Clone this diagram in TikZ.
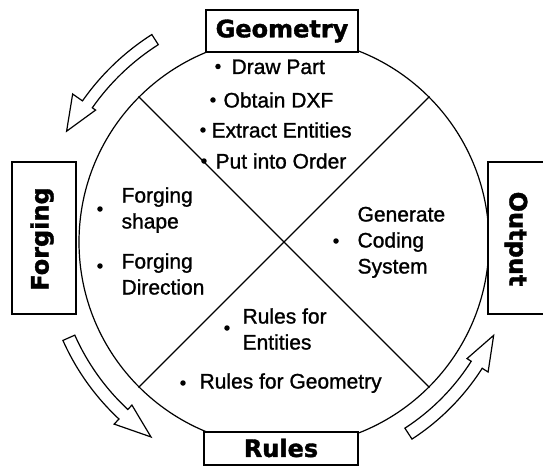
\documentclass[tikz,border=0pt]{standalone}
\usepackage{fontspec}
\setmainfont{Liberation Sans}
\newfontfamily\bodyfont{Liberation Sans}[FakeBold=1.2]
\newfontfamily\headfont{DejaVu Sans Bold}[FakeBold=1.5]
\newcommand\blockarc[8]{%
  \draw[blockarrow] (#1:#5pt) arc[start angle=#1, end angle=#2, radius=#5pt]
    -- (#2:#7pt) -- (#3:#8pt) -- (#2:#6pt) -- (#2:#4pt)
    arc[start angle=#2, end angle=#1, radius=#4pt] -- cycle;}
\begin{document}
\begin{tikzpicture}[x=1pt,y=1pt,line width=1.2pt,
  txt/.style={font=\bodyfont\fontsize{21}{26}\selectfont, anchor=base west, inner sep=0pt},
  bul/.style={circle, fill, inner sep=0pt, minimum size=5.5pt},
  head/.style={font=\headfont\fontsize{24}{28}\selectfont, inner sep=0pt},
  hbox/.style={draw, fill=white, inner sep=0pt},
  blockarrow/.style={draw, fill=white, line width=1.2pt, line join=miter}]
\useasboundingbox (-284,-224) rectangle (259,242);
% circle and diagonals
\node[circle, draw, minimum size=410pt, inner sep=0pt] (c) at (0,0) {};
\draw (c.135) -- (c.-45);
\draw (c.45) -- (c.225);
% curved block arrows
\blockarc{122.5}{145}{153}{234}{246}{230}{258}{244}
\blockarc{204}{227}{235.7}{229}{242}{223}{249}{236}
\blockarc{303}{327.5}{336}{222}{235}{217}{242}{229.5}
% header boxes
\node[hbox, minimum width=152pt, minimum height=42pt] (geobox) at (-2,211) {};
\node[head] (geo) at (-2,211) {Geometry};
\node[hbox, minimum width=154pt, minimum height=33pt] (rulbox) at (-3,-206.5) {};
\node[head] (rul) at (-3,-206) {Rules};
\node[hbox, minimum width=64pt, minimum height=152pt] (forbox) at (-240,4) {};
\node[head, rotate=90] (for) at (-242,3) {Forging};
\draw[fill=white] (259,80) -- (204,80) -- (204,-72) -- (259,-72);
\node[head, rotate=-90] (out) at (232,3) {Output};
% geometry items
\node[bul] (g1b) at (-66,175.5) {};
\node[txt] (g1) at (-53,168) {Draw Part};
\node[bul] (g2b) at (-71,142) {};
\node[txt] (g2) at (-61,134.5) {Obtain DXF};
\node[bul] (g3b) at (-81,112) {};
\node[txt] (g3) at (-73,104.5) {Extract Entities};
\node[bul] (g4b) at (-80,81) {};
\node[txt] (g4) at (-69,73.5) {Put into Order};
% forging items
\node[bul] (f1b) at (-184,33) {};
\node[txt] (f1a) at (-163,39.5) {Forging};
\node[txt] (f1c) at (-163,13.5) {shape};
\node[bul] (f2b) at (-184,-24) {};
\node[txt] (f2a) at (-163,-26.5) {Forging};
\node[txt] (f2c) at (-163,-52.5) {Direction};
% output items
\node[bul] (o1b) at (52,1) {};
\node[txt] (o1) at (73,20.5) {Generate};
\node[txt] (o2) at (73,-5.5) {Coding};
\node[txt] (o3) at (73,-31.5) {System};
% rules items
\node[bul] (r1b) at (-57,-86) {};
\node[txt] (r1) at (-42,-81.5) {Rules for};
\node[txt] (r2) at (-42,-107.5) {Entities};
\node[bul] (r3b) at (-101,-141) {};
\node[txt] (r3) at (-85,-146.5) {Rules for Geometry};
\end{tikzpicture}
\end{document}
